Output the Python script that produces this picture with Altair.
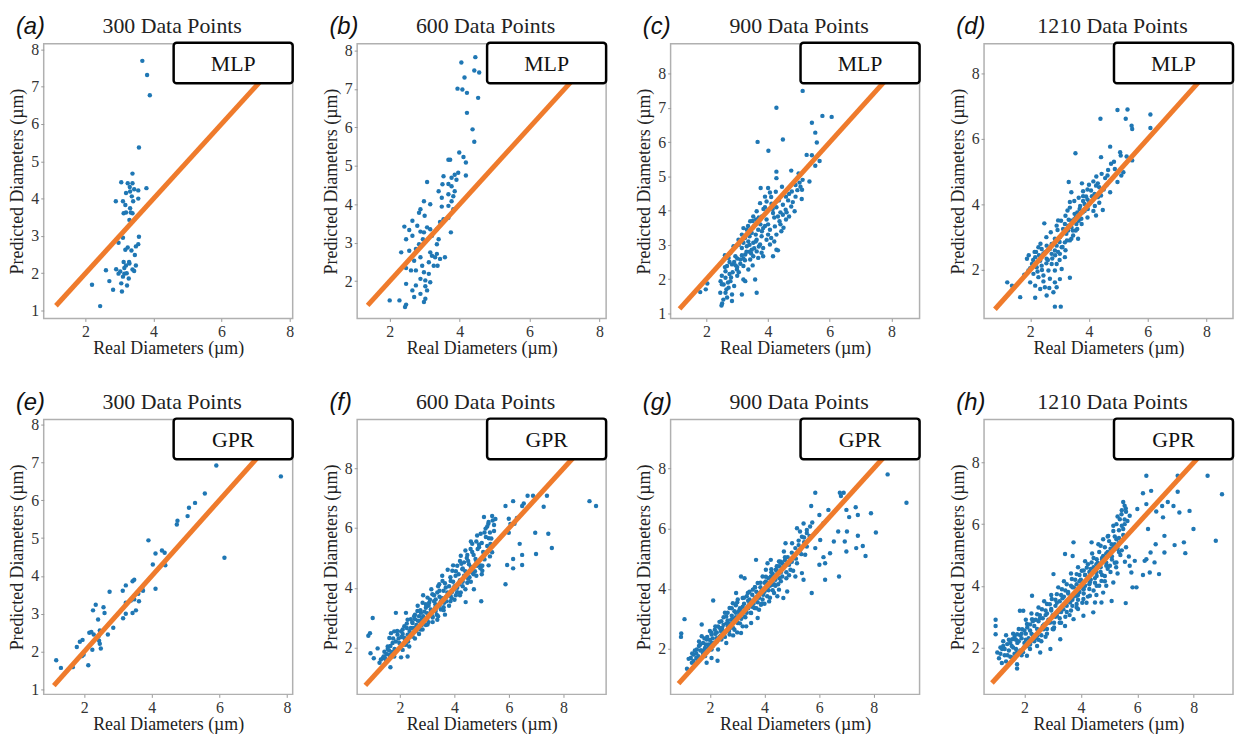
import altair as alt
import pandas as pd

BLUE = "#1f77b4"
ORANGE = "#ef7b2c"
SERIF = "Liberation Serif"
SANS = "Liberation Sans"

# (real, predicted) pairs
pts_a = [(3.67,7.69),(3.81,7.31),(3.89,6.77),(3.57,5.37),(3.38,4.67),(3.05,4.44),(3.24,4.41),(3.30,4.31),(3.31,4.19),(3.19,4.15),(3.55,4.22),(3.79,4.28),(3.38,4.41),(3.43,4.25),(2.89,3.93),(3.10,3.93),(3.40,3.93),(3.36,4.06),(3.55,4.00),(3.17,3.83),(3.31,3.74),(3.19,3.63),(3.33,3.63),(3.38,3.61),(3.12,3.61),(3.29,3.43),(3.10,2.95),(2.97,2.82),(3.57,2.98),(3.55,2.78),(3.48,2.72),(3.24,2.69),(3.17,2.63),(3.35,2.61),(3.45,2.49),(3.12,2.30),(3.19,2.21),(3.29,2.26),(3.14,2.14),(3.48,2.21),(3.38,2.10),(2.90,2.11),(2.60,2.08),(2.97,1.99),(3.14,1.99),(3.43,2.06),(3.10,1.91),(3.27,1.86),(3.05,1.73),(3.22,1.67),(2.70,1.79),(2.81,1.56),(3.07,1.51),(2.19,1.69),(2.43,1.12),(3.21,2.00),(3.28,2.30),(3.02,2.05)]

pts_b = [(4.45,7.83),(4.05,7.69),(4.42,7.48),(4.56,7.43),(4.14,7.30),(3.94,7.01),(4.08,6.99),(4.21,6.90),(4.53,6.77),(4.21,6.38),(4.37,5.95),(4.42,5.63),(3.99,5.35),(4.11,5.23),(4.18,5.09),(3.68,5.16),(3.73,5.16),(4.18,4.75),(3.96,4.82),(3.86,4.77),(3.77,4.69),(3.91,4.64),(3.54,4.73),(3.51,4.52),(3.07,4.58),(3.68,4.53),(3.77,4.47),(3.86,4.34),(3.40,4.34),(3.68,4.26),(3.82,4.21),(3.49,4.17),(2.98,4.08),(3.77,4.08),(3.16,4.00),(2.88,3.87),(2.84,3.78),(3.00,3.70),(3.49,3.94),(3.68,3.96),(3.82,3.87),(3.54,3.61),(3.68,3.65),(3.44,3.54),(3.35,3.35),(3.75,3.27),(2.65,3.57),(2.42,3.42),(2.56,3.33),(2.79,3.44),(2.88,3.29),(3.07,3.40),(3.16,3.35),(2.98,3.27),(3.21,3.18),(2.95,3.09),(2.65,3.18),(2.47,3.09),(2.84,2.96),(3.40,3.09),(3.35,2.96),(2.33,2.75),(2.56,2.79),(2.75,2.84),(2.88,2.62),(2.70,2.53),(3.16,2.75),(3.21,2.66),(3.30,2.62),(3.35,2.71),(3.44,2.58),(3.58,2.62),(3.12,2.49),(2.93,2.40),(3.26,2.40),(3.37,2.40),(2.47,2.34),(2.61,2.28),(2.75,2.28),(2.98,2.23),(3.12,2.19),(2.88,2.06),(3.02,2.02),(3.16,1.97),(2.47,1.93),(2.75,1.89),(3.02,1.87),(2.65,1.76),(2.88,1.67),(3.07,1.76),(2.70,1.59),(3.02,1.54),(2.98,1.46),(2.00,1.50),(2.28,1.50),(2.47,1.39),(2.44,1.33)]

pts_c = [(5.12,7.50),(4.27,7.01),(5.42,6.57),(5.76,6.77),(6.06,6.74),(3.66,6.01),(4.48,6.08),(4.01,5.75),(5.53,6.28),(5.58,5.99),(5.25,5.63),(5.42,5.62),(5.67,5.45),(5.53,5.31),(5.34,4.85),(5.10,4.61),(4.27,5.14),(4.27,4.95),(4.75,5.17),(4.99,5.09),(5.12,4.90),(4.89,4.75),(5.02,4.82),(4.68,4.49),(4.77,4.56),(4.58,4.41),(4.89,4.41),(5.09,4.34),(3.76,4.66),(4.00,4.66),(4.06,4.53),(3.90,4.41),(3.95,4.27),(3.74,4.22),(4.11,4.20),(4.27,4.10),(4.48,4.17),(4.57,4.03),(4.75,4.12),(4.86,3.98),(4.48,3.88),(4.32,3.83),(4.16,3.93),(3.63,3.98),(3.52,3.83),(3.42,3.69),(3.61,3.74),(3.80,3.83),(3.95,3.74),(4.37,3.69),(4.58,3.74),(4.68,3.83),(4.22,3.54),(4.06,3.44),(4.43,3.40),(4.27,3.30),(3.84,3.49),(3.68,3.44),(3.47,3.35),(3.31,3.44),(3.20,3.49),(3.79,3.25),(3.95,3.15),(3.63,3.15),(3.52,3.06),(3.36,3.10),(3.20,3.06),(3.04,3.15),(2.88,2.96),(3.15,2.91),(3.31,2.96),(3.74,3.01),(3.84,2.91),(4.06,3.01),(3.47,2.86),(3.63,2.81),(3.79,2.77),(3.52,2.67),(3.68,2.62),(3.84,2.67),(4.16,2.67),(4.27,2.86),(4.32,2.84),(2.78,2.77),(2.94,2.67),(3.10,2.57),(3.26,2.72),(3.42,2.57),(2.72,2.62),(2.56,2.57),(2.67,2.38),(2.83,2.43),(2.99,2.28),(3.20,2.38),(3.36,2.28),(2.62,2.23),(2.62,2.04),(2.78,1.94),(2.56,1.84),(2.46,1.94),(2.72,1.75),(2.62,1.60),(2.83,1.55),(2.67,1.46),(2.51,1.29),(2.49,1.23),(2.83,1.36),(3.20,1.99),(3.26,1.94),(3.58,1.99),(3.63,1.60),(3.15,1.55),(1.80,1.62),(2.03,1.87),(1.98,1.70),(3.40,3.00),(3.55,2.90),(3.60,3.30),(3.70,2.95),(3.45,2.75),(3.30,2.80),(3.15,2.70),(3.00,2.60),(2.90,2.50),(3.05,3.00),(3.25,3.20),(3.40,3.25),(3.55,3.55),(3.75,3.60),(3.90,3.55),(4.00,3.30),(4.10,3.20),(4.20,3.10),(4.40,3.60),(4.50,3.50),(4.60,3.95),(4.80,4.25),(4.95,4.60),(5.05,4.70),(4.15,4.05),(4.35,4.30),(3.85,4.05),(3.50,3.50),(2.95,2.40),(2.75,2.15),(2.60,2.35),(2.85,2.20),(3.10,2.45),(3.25,2.55),(2.50,2.10),(2.70,1.90),(2.90,1.80),(3.00,2.10),(2.45,1.60),(2.55,1.40),(2.95,2.95),(3.15,3.30),(3.35,3.55),(3.50,3.70),(3.70,3.80),(3.90,4.10),(4.10,4.40),(4.25,4.55),(4.45,4.70),(4.65,4.30),(4.40,3.95),(4.20,3.80),(4.00,3.60),(3.80,3.40),(3.60,3.10),(3.40,2.80),(3.20,2.60),(3.00,2.35),(2.80,2.05),(2.65,1.70),(2.75,2.50),(2.60,2.70),(2.50,1.85),(3.05,2.20),(3.50,2.40)]

pts_d = [(4.97,6.88),(5.31,6.89),(4.39,6.61),(5.25,6.61),(6.09,6.74),(6.09,6.33),(5.45,6.40),(5.47,6.30),(4.72,5.76),(3.54,5.56),(4.41,5.44),(5.06,5.59),(5.08,5.49),(5.28,5.46),(5.47,5.34),(4.75,5.24),(4.88,5.08),(5.17,4.98),(5.10,4.88),(4.97,4.68),(4.63,4.88),(4.43,4.93),(4.30,4.64),(4.41,4.27),(4.72,4.37),(4.47,3.83),(4.24,3.66),(3.31,4.68),(3.76,4.64),(3.40,4.37),(3.35,4.07),(3.27,3.81),(3.31,3.53),(3.55,3.20),(2.95,3.51),(2.93,3.22),(2.48,3.42),(4.07,4.42),(4.19,4.32),(4.30,4.22),(4.35,4.52),(4.24,4.57),(3.90,4.24),(4.01,4.07),(3.85,4.01),(3.96,3.86),(3.79,3.76),(3.68,3.86),(3.63,3.61),(3.74,3.56),(3.51,3.71),(3.46,3.45),(3.57,3.40),(3.40,3.30),(3.29,3.20),(3.18,3.40),(3.12,3.25),(3.23,3.10),(3.46,3.05),(3.63,2.95),(3.35,2.90),(3.18,2.84),(3.01,3.00),(2.84,2.95),(2.73,2.79),(2.90,2.74),(3.07,2.69),(2.67,2.64),(2.84,2.59),(2.56,2.74),(2.39,2.64),(2.28,2.69),(2.50,2.54),(2.73,2.49),(3.01,2.49),(3.18,2.39),(2.17,2.39),(2.34,2.28),(2.56,2.34),(2.73,2.18),(2.90,2.18),(2.06,2.18),(2.22,2.08),(2.39,2.13),(2.62,1.98),(2.84,1.98),(3.07,2.03),(1.89,2.34),(1.94,1.98),(2.11,1.88),(2.28,1.78),(2.45,1.83),(2.67,1.73),(2.84,1.62),(3.01,1.72),(3.35,1.76),(2.00,1.62),(2.17,1.52),(2.34,1.42),(2.50,1.47),(2.79,1.32),(2.90,1.47),(1.66,1.17),(2.17,1.15),(1.22,1.62),(1.38,1.52),(2.84,0.88),(3.04,0.88),(2.56,1.22),(3.60,3.75),(3.70,3.95),(3.80,4.10),(3.95,4.15),(4.10,4.25),(4.20,3.95),(4.35,4.05),(4.50,4.45),(4.60,4.60),(3.50,3.55),(3.30,3.35),(3.15,3.15),(3.00,2.85),(2.80,2.80),(2.60,2.60),(2.45,2.50),(2.30,2.45),(2.10,2.30),(2.00,2.05),(3.40,3.50),(3.55,3.60),(3.85,3.80),(3.65,3.50),(3.45,3.20),(3.25,2.90),(3.10,2.70),(2.95,2.55),(2.75,2.35),(2.55,2.20),(2.40,2.00),(3.80,4.40),(4.00,4.60),(4.55,4.80),(4.65,5.05),(4.85,5.30),(2.20,2.55),(2.35,2.80),(2.55,3.00),(2.70,3.15),(2.90,3.35),(3.05,3.50),(3.20,3.65),(3.35,3.90),(3.50,4.10),(3.65,4.20),(3.80,4.25),(3.95,4.45),(4.15,4.70),(4.25,4.85),(2.60,2.30),(2.85,2.45),(3.00,2.30),(3.20,2.60),(3.40,2.95),(3.60,3.25),(3.75,3.40),(3.95,3.60),(4.15,3.80),(4.35,4.30),(2.25,1.95),(2.45,1.65),(2.65,1.45),(1.80,1.85),(1.95,2.45),(2.15,2.55)]

pts_e = [(7.82,6.63),(5.91,6.92),(5.57,6.18),(5.28,5.93),(5.10,5.80),(5.06,5.58),(4.76,5.46),(4.74,5.36),(3.90,4.94),(6.15,4.48),(4.11,4.59),(4.30,4.67),(4.38,4.61),(4.40,4.28),(4.03,4.30),(4.11,3.66),(3.48,3.90),(3.43,3.86),(3.23,3.75),(3.14,3.61),(2.75,3.58),(3.72,3.68),(3.74,3.61),(3.60,3.53),(3.62,3.33),(3.48,3.38),(3.38,3.35),(3.23,3.29),(3.53,3.09),(3.43,3.02),(3.23,3.00),(3.15,2.88),(2.34,3.24),(2.26,3.09),(2.57,3.17),(2.60,3.02),(2.41,2.85),(2.86,2.63),(2.70,2.45),(2.21,2.52),(2.15,2.50),(2.28,2.45),(2.46,2.56),(2.44,2.29),(2.46,2.21),(1.95,2.31),(1.87,2.26),(1.78,2.12),(2.49,2.08),(2.24,2.05),(1.98,1.92),(1.93,1.88),(2.12,1.64),(1.66,1.59),(1.31,1.57),(1.17,1.77),(2.42,2.40)]

pts_f = [(8.95,6.90),(9.19,6.74),(7.39,7.08),(7.27,6.71),(6.88,7.08),(6.68,7.08),(6.54,6.82),(6.15,6.90),(5.87,6.74),(6.48,6.74),(6.96,5.84),(7.44,5.81),(7.57,5.33),(6.99,5.13),(6.48,5.10),(6.48,4.76),(6.15,4.96),(6.15,4.65),(5.93,4.76),(5.87,4.12),(6.39,5.47),(6.20,6.14),(6.29,6.34),(5.99,6.31),(6.05,6.14),(5.99,5.84),(5.08,6.37),(5.38,6.40),(5.24,6.14),(5.14,5.98),(4.96,5.81),(5.26,5.66),(5.32,5.47),(5.20,5.19),(5.38,5.19),(5.02,4.74),(4.98,3.55),(4.71,3.95),(4.41,3.52),(4.83,5.75),(4.65,5.47),(4.90,5.36),(5.08,5.07),(4.59,5.30),(4.47,5.10),(4.77,4.96),(4.83,4.74),(5.02,4.57),(4.53,4.79),(4.65,4.51),(4.35,4.85),(4.23,5.07),(4.29,4.62),(4.10,4.74),(4.35,4.40),(4.47,4.17),(4.17,4.12),(4.04,4.40),(3.92,4.57),(3.86,4.23),(3.98,3.95),(4.23,3.84),(3.74,3.84),(3.86,3.72),(3.68,4.01),(3.56,4.23),(3.44,4.12),(3.37,3.84),(3.31,3.61),(3.62,3.50),(3.50,3.27),(3.31,3.22),(3.19,3.78),(3.01,3.67),(3.07,3.50),(3.13,3.27),(3.19,3.05),(3.37,2.93),(2.95,3.33),(2.83,3.50),(2.77,3.16),(2.89,2.93),(3.01,2.77),(2.71,2.88),(2.64,3.22),(2.52,3.05),(2.46,2.82),(2.64,2.65),(2.83,2.60),(2.40,2.65),(2.28,2.93),(2.22,3.16),(1.85,3.16),(2.16,2.71),(2.04,2.54),(2.28,2.43),(2.46,2.37),(2.16,2.32),(1.91,2.43),(1.79,2.54),(1.67,2.48),(1.61,2.32),(1.73,2.15),(1.98,2.15),(2.22,2.09),(2.34,2.03),(2.10,1.92),(1.85,1.92),(1.55,2.03),(1.43,1.86),(1.61,1.75),(1.79,1.70),(2.04,1.67),(2.28,1.70),(1.49,1.58),(1.37,1.64),(1.25,1.49),(1.65,1.34),(1.18,1.97),(1.04,1.64),(0.92,1.81),(1.00,2.99),(0.84,2.39),(0.90,2.48),(2.55,2.95),(2.70,3.05),(2.90,3.20),(3.05,3.40),(3.25,3.55),(3.45,3.70),(3.60,3.90),(3.80,4.05),(3.95,4.20),(4.15,4.45),(4.30,4.65),(4.50,4.90),(4.70,5.10),(4.85,5.30),(5.00,5.50),(5.15,5.70),(5.30,5.85),(5.45,6.10),(5.40,6.25),(5.20,6.05),(2.35,2.55),(2.60,2.75),(2.80,2.95),(3.10,3.10),(3.30,3.35),(3.50,3.55),(3.70,3.70),(3.90,3.85),(4.10,4.00),(4.30,4.20),(4.55,4.35),(4.75,4.55),(4.95,4.75),(5.10,4.95),(5.30,5.05),(1.95,2.30),(2.10,2.45),(2.25,2.65),(2.45,2.85),(2.65,3.40),(2.85,3.75),(3.15,3.95),(3.40,4.05),(3.55,4.40),(3.75,4.60),(3.95,4.75),(4.20,4.90),(4.40,5.25),(4.60,5.55),(4.80,5.55),(3.00,2.95),(3.20,2.85),(3.40,3.05),(3.60,3.25),(3.80,3.40),(4.00,3.60),(4.20,3.75),(4.40,3.95),(4.60,4.20),(4.80,4.40),(5.00,4.45),(5.25,4.75),(3.65,3.10),(3.85,3.55),(4.05,3.75),(2.50,2.50),(2.70,2.45),(2.30,2.20),(2.00,2.00),(1.80,1.95),(1.60,1.90),(1.70,1.85),(1.40,1.70),(1.50,1.78),(2.15,2.10),(2.55,2.30),(2.75,2.60),(2.95,2.75),(1.30,1.60),(1.45,1.65),(1.55,1.95),(1.65,2.05),(1.75,2.30),(1.85,2.20),(1.90,2.55),(2.05,2.35),(2.10,2.60),(2.20,2.25),(2.25,2.80),(2.35,2.40),(2.40,2.95),(2.50,2.65),(2.55,3.10),(2.60,2.55),(2.65,2.90),(2.75,3.25),(2.80,2.75),(2.85,3.05),(2.95,3.45),(3.00,3.15),(3.05,2.85),(3.10,3.60),(3.15,3.20),(3.20,3.00),(3.25,3.75),(3.30,3.45),(3.35,3.10),(3.45,3.90),(3.45,3.40),(3.55,3.65),(3.60,3.35),(3.65,4.15),(3.70,3.55),(3.80,3.80),(3.85,4.35),(3.90,3.65),(4.00,4.05),(4.05,4.55),(4.10,3.85),(4.20,4.25),(4.25,4.80),(4.30,4.05),(4.40,4.55),(4.45,5.00),(4.50,4.30),(4.60,4.70),(4.65,5.20),(4.70,4.45),(4.80,4.90),(4.90,5.45),(4.95,4.65),(5.05,5.20),(5.10,5.85),(5.20,5.40),(5.25,6.20),(5.35,5.65),(5.45,5.90),(5.50,6.30)]

pts_g = [(9.20,6.86),(8.51,7.80),(7.90,6.51),(8.08,5.87),(7.42,6.45),(7.34,6.71),(7.10,6.38),(7.00,6.62),(6.76,7.19),(6.90,7.19),(6.80,7.08),(5.86,7.19),(5.71,6.75),(6.01,6.45),(6.34,6.62),(6.16,6.18),(6.70,5.90),(7.02,5.90),(6.94,5.57),(6.54,5.57),(6.40,5.18),(6.22,4.85),(6.01,4.80),(6.22,4.30),(5.73,3.86),(6.73,4.41),(7.00,5.24),(7.36,5.35),(7.70,5.09),(7.60,5.42),(7.42,5.76),(6.04,5.62),(5.86,5.35),(6.16,5.05),(5.67,6.07),(5.55,5.85),(5.37,5.73),(5.19,6.01),(5.43,6.17),(5.01,5.51),(5.13,5.35),(5.31,5.29),(5.49,5.13),(5.19,4.85),(5.37,4.52),(5.43,4.30),(5.13,4.41),(4.95,4.63),(4.71,5.24),(4.77,5.51),(4.53,4.91),(4.47,4.74),(4.23,4.96),(4.41,4.63),(4.65,4.41),(4.69,3.69),(4.83,3.91),(4.11,4.85),(4.05,4.63),(3.93,4.41),(3.75,4.19),(4.05,4.24),(4.23,4.41),(4.29,4.13),(4.11,3.97),(4.35,3.86),(4.53,3.97),(4.47,3.75),(4.17,3.58),(3.69,4.96),(3.14,4.41),(3.57,3.97),(3.39,3.86),(3.20,3.69),(3.45,3.64),(3.75,3.75),(3.93,3.64),(3.87,3.47),(3.63,3.36),(3.39,3.41),(2.96,3.86),(3.02,3.64),(2.84,3.52),(2.72,3.36),(2.90,3.25),(3.08,3.14),(3.27,3.08),(3.51,3.19),(3.75,3.03),(3.51,2.86),(3.33,2.75),(3.02,2.86),(2.78,2.97),(2.60,3.08),(2.42,2.92),(2.66,2.75),(2.90,2.64),(3.14,2.53),(2.72,2.48),(2.48,2.59),(2.30,2.75),(2.18,2.64),(2.06,2.48),(2.24,2.36),(2.42,2.31),(2.60,2.20),(2.06,2.20),(1.88,2.31),(1.70,2.42),(1.64,2.14),(1.82,2.03),(2.06,1.98),(2.30,1.98),(1.52,1.98),(1.40,1.81),(1.58,1.76),(1.82,1.76),(2.06,1.70),(1.22,1.67),(1.34,1.54),(1.16,1.34),(1.88,1.54),(2.28,1.61),(1.07,2.99),(0.95,2.51),(0.94,2.40),(2.12,3.61),(1.70,2.81),(3.27,4.35),(1.45,1.95),(1.60,2.10),(1.75,2.20),(1.90,2.40),(2.05,2.55),(2.20,2.50),(2.35,2.70),(2.50,2.80),(2.65,2.95),(2.80,3.10),(2.95,3.20),(3.10,3.35),(3.25,3.50),(3.40,3.60),(3.55,3.80),(3.70,3.90),(3.85,4.05),(4.00,4.20),(4.15,4.35),(4.30,4.50),(4.45,4.60),(4.55,4.75),(4.65,4.85),(4.75,4.95),(4.85,5.05),(4.60,4.90),(4.70,4.80),(1.55,1.65),(1.75,1.85),(1.95,2.05),(2.15,2.20),(2.35,2.40),(2.55,2.55),(2.75,2.70),(2.95,2.90),(3.15,3.00),(3.35,3.20),(3.55,3.40),(3.75,3.55),(3.95,3.80),(4.15,3.95),(4.35,4.15),(4.55,4.35),(4.80,4.55),(1.65,1.95),(1.85,2.15),(2.00,2.30),(2.25,2.55),(2.45,2.70),(2.60,2.85),(2.85,3.00),(3.05,3.25),(3.20,3.40),(3.45,3.50),(3.65,3.70),(3.80,3.85),(4.05,4.05),(4.25,4.25),(4.40,4.40),(4.50,4.55),(3.30,3.30),(3.60,3.60),(3.90,3.95),(2.70,2.60),(2.40,2.45),(2.10,2.10),(1.80,1.95),(1.50,1.85),(1.30,1.70),(1.40,1.60),(2.55,3.20),(2.95,3.45),(3.35,3.75),(3.65,4.05),(4.25,4.65),(3.80,3.30),(4.00,3.50),(4.20,3.70),(3.20,2.75),(2.85,2.45),(3.00,2.55),(4.40,4.10),(4.60,4.25),(4.90,4.45),(5.00,4.90),(5.10,5.10),(5.25,5.45),(5.45,5.55),(5.55,5.95),(5.30,5.90),(1.35,1.85),(1.50,1.70),(1.60,2.25),(1.70,1.95),(1.80,2.35),(1.95,2.15),(2.00,2.60),(2.10,2.35),(2.20,2.75),(2.25,2.25),(2.35,2.90),(2.40,2.60),(2.50,3.05),(2.55,2.40),(2.65,3.20),(2.70,2.85),(2.80,3.35),(2.85,2.70),(2.95,3.05),(3.00,3.55),(3.10,2.85),(3.15,3.25),(3.25,3.70),(3.30,3.05),(3.40,3.35),(3.45,3.90),(3.50,3.20),(3.60,3.50),(3.65,4.05),(3.70,3.35),(3.80,3.70),(3.85,4.20),(3.90,3.50),(4.00,3.90),(4.05,4.40),(4.10,3.75),(4.20,4.10),(4.25,4.55),(4.30,3.95),(4.40,4.30),(4.45,4.75),(4.50,4.15),(4.55,4.90),(4.60,4.55),(4.70,4.70),(4.75,5.05),(4.80,4.35),(4.90,4.80),(5.00,5.20),(5.05,4.60),(5.15,5.00),(5.25,5.60),(5.35,5.15),(5.45,5.70),(5.55,5.40),(5.65,5.75),(5.75,6.20),(5.90,5.90)]

pts_h = [(9.00,6.97),(8.78,5.46),(8.49,7.57),(7.99,5.84),(7.85,6.43),(6.32,7.57),(7.43,7.57),(7.43,7.05),(7.08,6.72),(7.28,6.59),(7.49,6.38),(6.96,5.62),(7.32,5.32),(7.65,5.41),(7.70,5.06),(6.96,5.08),(6.65,5.35),(6.47,5.08),(6.61,4.76),(6.32,4.86),(6.44,4.43),(6.26,4.81),(6.20,4.35),(6.38,5.84),(6.77,4.38),(5.97,3.95),(5.83,3.95),(5.59,3.44),(5.79,4.43),(5.91,4.81),(6.32,6.65),(6.88,6.59),(6.00,6.49),(6.20,7.00),(6.49,7.08),(6.67,6.41),(6.91,6.22),(5.50,6.72),(5.59,6.51),(5.44,6.32),(5.38,6.16),(5.26,6.00),(5.15,5.78),(4.97,5.62),(4.79,5.51),(4.62,5.35),(5.09,5.35),(5.26,5.51),(5.50,5.84),(5.73,6.27),(5.40,5.00),(5.26,4.76),(5.56,4.78),(5.73,4.65),(5.03,4.65),(4.85,4.32),(5.15,4.11),(4.73,4.16),(4.56,4.00),(4.79,3.78),(4.32,3.68),(4.50,3.46),(4.09,3.57),(3.85,3.41),(5.09,3.51),(4.79,4.97),(4.56,4.86),(4.38,4.76),(4.21,4.59),(4.03,4.49),(3.85,4.38),(3.68,4.22),(3.50,4.05),(3.33,3.89),(3.15,3.73),(2.97,3.57),(2.80,3.41),(2.62,3.24),(2.45,3.08),(2.27,2.92),(2.09,2.76),(1.92,2.59),(1.74,2.43),(1.57,2.27),(1.39,2.11),(1.21,1.95),(4.56,4.32),(4.32,4.11),(4.09,3.89),(3.85,3.68),(3.62,3.46),(3.38,3.24),(3.15,3.03),(2.92,2.81),(2.68,2.59),(2.45,2.38),(2.21,2.16),(1.98,2.00),(1.74,1.84),(1.57,1.68),(1.74,1.46),(2.09,1.73),(2.45,2.05),(3.74,5.41),(4.38,5.41),(3.71,4.97),(3.44,5.03),(3.03,4.38),(2.27,3.68),(1.84,3.19),(1.96,3.19),(0.98,2.90),(0.98,2.70),(0.98,2.43),(1.04,1.84),(3.03,2.59),(3.44,2.70),(3.74,2.92),(4.09,3.03),(4.44,3.14),(4.73,3.46),(3.27,2.27),(2.56,1.84),(2.92,1.95),(1.74,1.32),(1.30,1.75),(1.45,1.90),(1.60,2.00),(1.75,2.15),(1.90,2.30),(2.05,2.45),(2.20,2.55),(2.35,2.70),(2.50,2.85),(2.65,2.95),(2.80,3.10),(2.95,3.25),(3.10,3.35),(3.25,3.50),(3.40,3.65),(3.55,3.80),(3.70,3.95),(3.85,4.05),(4.00,4.20),(4.15,4.35),(4.30,4.45),(4.45,4.60),(4.60,4.75),(4.75,4.85),(4.90,5.05),(5.05,5.20),(5.20,5.35),(5.35,5.55),(5.45,5.95),(5.55,6.15),(5.60,6.40),(1.35,1.55),(1.50,1.70),(1.65,1.80),(1.85,1.90),(2.00,2.15),(2.15,2.30),(2.30,2.40),(2.50,2.55),(2.70,2.75),(2.85,2.90),(3.00,3.05),(3.20,3.15),(3.35,3.35),(3.55,3.50),(3.75,3.65),(3.95,3.80),(4.15,4.00),(4.35,4.20),(4.55,4.45),(4.70,4.60),(4.90,4.75),(5.10,4.95),(1.55,2.05),(1.70,2.25),(1.85,2.40),(2.00,2.55),(2.20,2.75),(2.40,2.90),(2.55,3.05),(2.75,3.20),(2.90,3.40),(3.10,3.55),(3.30,3.70),(3.45,3.85),(3.65,4.00),(3.80,4.20),(3.95,4.35),(4.10,4.50),(4.25,4.70),(4.45,4.90),(4.65,5.10),(4.85,5.25),(5.00,5.45),(5.20,5.60),(5.35,5.80),(2.10,2.05),(2.35,2.20),(2.60,2.40),(2.80,2.60),(3.05,2.80),(3.25,2.95),(3.50,3.15),(3.70,3.35),(3.90,3.55),(4.10,3.75),(4.30,3.90),(4.50,4.10),(4.75,4.35),(4.95,4.55),(5.20,4.75),(5.35,5.10),(1.90,1.75),(2.20,1.95),(2.50,2.25),(2.75,2.35),(3.00,2.60),(3.30,2.80),(3.60,3.05),(3.90,3.25),(4.20,3.45),(4.55,3.70),(4.90,4.00),(5.30,4.40),(1.15,1.80),(1.25,2.05),(1.45,2.25),(1.60,2.45),(1.80,2.60),(2.05,2.90),(2.25,3.10),(2.50,3.30),(2.70,3.50),(2.95,3.70),(3.20,3.95),(3.40,4.15),(3.65,4.40),(3.90,4.60),(4.15,4.80),(4.40,5.05),(4.70,5.30),(4.95,5.60),(5.15,5.95),(5.30,6.25),(5.45,6.45),(5.55,6.60),(1.10,1.65),(1.20,1.50),(1.30,1.95),(1.40,1.75),(1.50,2.15),(1.60,1.60),(1.65,2.35),(1.70,1.95),(1.80,2.20),(1.90,2.45),(1.95,1.85),(2.05,2.25),(2.10,2.65),(2.20,2.10),(2.25,2.45),(2.30,2.85),(2.40,2.30),(2.45,2.60),(2.55,2.95),(2.60,2.20),(2.65,2.70),(2.75,3.05),(2.80,2.45),(2.85,2.80),(2.95,3.20),(3.05,2.65),(3.10,3.00),(3.15,3.45),(3.25,2.80),(3.30,3.15),(3.35,3.60),(3.45,3.00),(3.50,3.35),(3.55,3.75),(3.65,3.20),(3.70,3.55),(3.75,3.95),(3.85,3.30),(3.90,3.70),(3.95,4.15),(4.05,3.45),(4.10,3.90),(4.15,4.35),(4.25,3.65),(4.30,4.05),(4.35,4.55),(4.45,3.85),(4.50,4.25),(4.55,4.70),(4.65,4.00),(4.70,4.45),(4.75,4.90),(4.85,4.15),(4.90,4.65),(4.95,5.10),(5.05,4.45),(5.10,4.85),(5.15,5.25),(5.25,4.60),(5.30,5.20),(5.35,5.40),(5.45,5.15),(5.50,5.65),(5.55,6.00),(5.60,5.25),(5.70,4.95),(5.65,6.10),(1.25,2.20),(1.15,2.00),(1.35,2.40)]

panel_points = [pts_a, pts_b, pts_c, pts_d, pts_e, pts_f, pts_g, pts_h]
panel_letters = ["(a)", "(b)", "(c)", "(d)", "(e)", "(f)", "(g)", "(h)"]
panel_titles = ["300 Data Points", "600 Data Points", "900 Data Points", "1210 Data Points"] * 2
models = ["MLP"] * 4 + ["GPR"] * 4
x_domains = [[0.77, 8.09], [1.07, 8.19], [0.84, 8.91], [0.43, 8.90],
             [0.80, 8.17], [0.43, 9.56], [0.56, 9.68], [0.57, 9.39]]
y_domains = [[0.79, 8.15], [1.03, 8.18], [0.85, 8.88], [0.52, 8.90],
             [0.87, 8.13], [0.43, 9.63], [0.49, 9.62], [0.48, 9.39]]
x_ticks = [2, 4, 6, 8]
y_ticks = [[1, 2, 3, 4, 5, 6, 7, 8], [2, 3, 4, 5, 6, 7, 8], [1, 2, 3, 4, 5, 6, 7, 8], [2, 4, 6, 8],
           [1, 2, 3, 4, 5, 6, 7, 8], [2, 4, 6, 8], [2, 4, 6, 8], [2, 4, 6, 8]]
line_lo = [1.13, 1.37, 1.13, 0.80, 1.10, 0.73, 0.85, 0.85]
line_hi = [7.80, 7.90, 8.50, 8.50, 7.80, 9.20, 9.20, 9.00]

W, H = 251, 277


def panel(i):
    pts = pd.DataFrame({"real": [p[0] for p in panel_points[i]],
                        "pred": [p[1] for p in panel_points[i]]})
    diag = pd.DataFrame({"real": [line_lo[i], line_hi[i]], "pred": [line_lo[i], line_hi[i]]})
    info = pd.DataFrame({"model": [models[i]], "letter": [panel_letters[i]],
                         "title": [panel_titles[i]]})
    xs = alt.Scale(domain=x_domains[i], nice=False, zero=False)
    ys = alt.Scale(domain=y_domains[i], nice=False, zero=False)
    scatter = alt.Chart(pts).mark_circle(size=20, color=BLUE, opacity=1, clip=True).encode(
        x=alt.X("real:Q", scale=xs,
                axis=alt.Axis(values=x_ticks, tickCount=12, format="d", title="Real Diameters (µm)",
                              labelOverlap=False)),
        y=alt.Y("pred:Q", scale=ys,
                axis=alt.Axis(values=y_ticks[i], tickCount=12, format="d",
                              title="Predicted Diameters (µm)", labelOverlap=False)),
    )
    line = alt.Chart(diag).mark_line(color=ORANGE, strokeWidth=5, clip=True).encode(
        x="real:Q", y="pred:Q")
    box = alt.Chart(info).mark_rect(fill="white", stroke="black", strokeWidth=2.5, cornerRadius=3).encode(
        x=alt.value(131), x2=alt.value(W), y=alt.value(-1), y2=alt.value(40))
    box_text = alt.Chart(info).mark_text(font=SERIF, fontSize=22, color="#111", align="center",
                                         baseline="middle").encode(
        x=alt.value(191), y=alt.value(21), text="model:N")
    letter = alt.Chart(info).mark_text(font=SANS, fontSize=24, fontStyle="italic", color="#111",
                                       align="left", baseline="alphabetic").encode(
        x=alt.value(-28), y=alt.value(-10), text="letter:N")
    title = alt.Chart(info).mark_text(font=SERIF, fontSize=22, color="#222", align="center",
                                      baseline="alphabetic").encode(
        x=alt.value(W / 2 + 4), y=alt.value(-11), text="title:N")
    return alt.layer(scatter, line, box, box_text, letter, title).properties(width=W, height=H)


chart = alt.concat(*[panel(i) for i in range(8)], columns=4,
                   spacing={"row": 102, "column": 65}, bounds="flush").properties(
    padding={"top": 3, "left": 0, "right": 0, "bottom": 0}
).configure_view(stroke="#b0b0b0", strokeWidth=1.5).configure_axis(
    domain=False, grid=False, labelFont=SERIF, labelFontSize=16, labelColor="#333",
    titleFont=SERIF, titleFontSize=18, titleFontWeight="normal", titleColor="#222",
    tickSize=3, tickColor="#999", labelPadding=2, labelFlush=False, labelOverlap=False
).configure_axisX(titlePadding=0).configure_axisY(titlePadding=4)

chart.save("out.html", embed_options={"renderer": "svg", "actions": False})
